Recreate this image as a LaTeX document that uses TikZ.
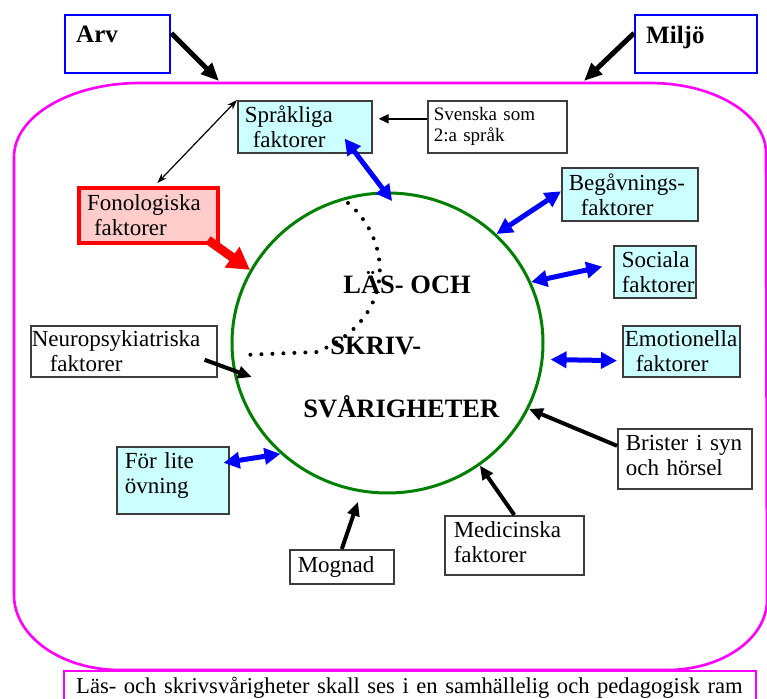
\documentclass[tikz,border=0pt]{standalone}
\usepackage{fontspec}
\setmainfont{Liberation Serif}
\usetikzlibrary{shapes.geometric,arrows.meta}

\definecolor{ramrosa}{HTML}{FF00FF}
\definecolor{ljuscyan}{HTML}{CCFFFF}
\definecolor{ljusrod}{HTML}{FFCCCC}
\definecolor{cirkelgron}{HTML}{008000}
\definecolor{kantgra}{HTML}{3C3C3C}

\tikzset{
    ruta/.style={draw=kantgra, fill=white, line width=0.8pt, anchor=north west, align=left,
        inner xsep=3.5pt, inner ysep=0pt, font=\fontsize{11.5}{12.5}\selectfont},
    faktor/.style={ruta, fill=ljuscyan},
    fonruta/.style={ruta, draw=red, fill=ljusrod, line width=2pt},
    arvruta/.style={draw=blue, line width=1.2pt, anchor=north west, align=left,
        inner xsep=5.5pt, inner ysep=0pt, text depth=9.5pt, font=\bfseries\fontsize{12.5}{14}\selectfont},
    mitttext/.style={anchor=base west, inner sep=0pt, font=\bfseries\fontsize{13.25}{15}\selectfont},
    ramlinje/.style={draw=ramrosa, line width=1.3pt},
    prickad/.style={line width=2pt, line cap=round, dash pattern=on 0pt off 5.5pt},
    storpil/.style={line width=2.5pt, -{Triangle[length=9pt,width=7.5pt]}},
    svartpil/.style={line width=2pt, -{Triangle[length=7pt,width=6pt]}},
    rodpil/.style={red, line width=4.5pt, -{Triangle[length=11pt,width=12pt]}},
    blapil/.style={blue, line width=2.5pt, {Triangle[length=8pt,width=8pt]}-{Triangle[length=8pt,width=8pt]}},
    tunnpil/.style={line width=0.6pt, {Stealth[length=5pt,width=3.5pt]}-{Stealth[length=5pt,width=3.5pt]}},
}

\begin{document}
\begin{tikzpicture}[x=0.5pt,y=-0.5pt]
    \clip (0,0) rectangle (767,699);
    \draw[ramlinje] (14,157) arc[start angle=180, end angle=270, x radius=126, y radius=74] -- (650,83)
        arc[start angle=270, end angle=360, x radius=116, y radius=70] -- (767,600)
        arc[start angle=0, end angle=90, x radius=100, y radius=70] -- (120,670)
        arc[start angle=90, end angle=180, x radius=106, y radius=75] -- cycle;
    \node[arvruta, minimum width=52.5pt, minimum height=29pt, text width=41.5pt] (arv) at (64,14) {Arv};
    \node[arvruta, minimum width=61pt, minimum height=29pt, text width=50pt] (miljo) at (634,14) {Miljö};
    \node[faktor, minimum width=67pt, minimum height=26pt, text width=60pt] (spr) at (237,100) {Språkliga\\\hspace*{4pt}faktorer};
    \node[ruta, minimum width=69.5pt, minimum height=26pt, inner xsep=3pt, text width=63.5pt,
        font=\fontsize{9.5}{10.5}\selectfont] (sve) at (427,100) {Svenska som\\2:a språk};
    \node[fonruta, minimum width=69.5pt, minimum height=27.5pt, inner xsep=4pt, text width=61.5pt] (fon) at (77,186) {Fonologiska\\\hspace*{3.5pt}faktorer};
    \node[faktor, minimum width=68pt, minimum height=26.5pt, text width=61pt] (beg) at (561,167) {Begåvnings-\\\hspace*{6pt}faktorer};
    \node[faktor, minimum width=41pt, minimum height=26pt, inner xsep=4pt, text width=33pt] (soc) at (613,245) {Sociala\\faktorer};
    \node[faktor, minimum width=58.5pt, minimum height=25.5pt, inner xsep=1pt, text width=56.5pt] (emo) at (622,325) {Emotionella\\\hspace*{5.5pt}faktorer};
    \node[ruta, minimum width=93pt, minimum height=25.5pt, inner xsep=0.5pt, text width=92pt] (neu) at (30,325) {Neuropsykiatriska\\\hspace*{9pt}faktorer};
    \node[faktor, minimum width=56pt, minimum height=33.5pt, inner xsep=4pt, text width=48pt, text depth=20pt] (fov) at (116,446) {För lite\\övning};
    \node[ruta, minimum width=52pt, minimum height=17pt, inner xsep=4pt, text width=44pt] (mog) at (289,549) {Mognad};
    \node[ruta, minimum width=69.5pt, minimum height=29.5pt, inner xsep=4.5pt, text width=60.5pt, text depth=15.5pt] (med) at (444,515) {Medicinska\\faktorer};
    \node[ruta, minimum width=67pt, minimum height=30pt, inner xsep=4pt, text width=59pt, text depth=15.5pt] (bri) at (617,428) {Brister i syn\\och hörsel};
    \node[ruta, draw=ramrosa, line width=1.2pt, minimum width=346pt, minimum height=22pt, inner xsep=6pt,
        text width=334pt, text depth=7.85pt, font=\fontsize{11.3}{12.5}\selectfont] (ram) at (63,670)
        {\mbox{Läs- och skrivsvårigheter skall ses i en samhällelig och pedagogisk ram}};
    \node[ellipse, draw=cirkelgron, line width=1.5pt, minimum width=155.5pt, minimum height=150pt, inner sep=0pt] (les) at (387.5,343) {};
    \draw[prickad] (348,203) .. controls (392,240) and (398,318) .. (317,352) -- (243,355);
    \node[mitttext] (las) at (343,294) {LÄS- OCH};
    \node[mitttext] (skriv) at (330,355) {SKRIV-};
    \node[mitttext] (svar) at (303,418) {SVÅRIGHETER};
    \coordinate (arvmal) at (219,81);
    \coordinate (miljomal) at (584,81);
    \draw[storpil] ([yshift=5.5pt]arv.east) -- (arvmal);
    \draw[storpil] ([yshift=5.5pt]miljo.west) -- (miljomal);
    \draw[tunnpil, shorten >=2pt] (spr.north west) -- ([xshift=3pt]fon.north);
    \draw[line width=1pt, -{Triangle[length=5pt,width=4.5pt]}, shorten >=3pt] ([yshift=4pt]sve.west) -- ([yshift=4pt]spr.east);
    \draw[rodpil] ([shift={(-6pt,2.5pt)}]fon.south east) -- (les.152);
    \draw[blapil, shorten >=-6pt] ([shift={(-14pt,7.5pt)}]spr.south east) -- (les.91);
    \draw[blapil] ([yshift=1.5pt]beg.west) -- (les.45);
    \draw[blapil, shorten >=5.5pt] (les.23) -- ([yshift=3.75pt]soc.west);
    \draw[blapil, shorten <=3.5pt, shorten >=2.5pt] (les.-6) -- ([yshift=-4.75pt]emo.west);
    \draw[blapil] ([shift={(-3pt,8.75pt)}]fov.east) -- (les.-134);
    \draw[svartpil, shorten >=-10pt] ([shift={(-6.5pt,-4.25pt)}]neu.east) -- (les.-170);
    \draw[svartpil] ([yshift=6.5pt]bri.west) -- (les.-25);
    \draw[svartpil] (med.north) -- (les.-53);
    \draw[svartpil, shorten >=5pt] (mog.north) -- (les.-100);
\end{tikzpicture}
\end{document}
